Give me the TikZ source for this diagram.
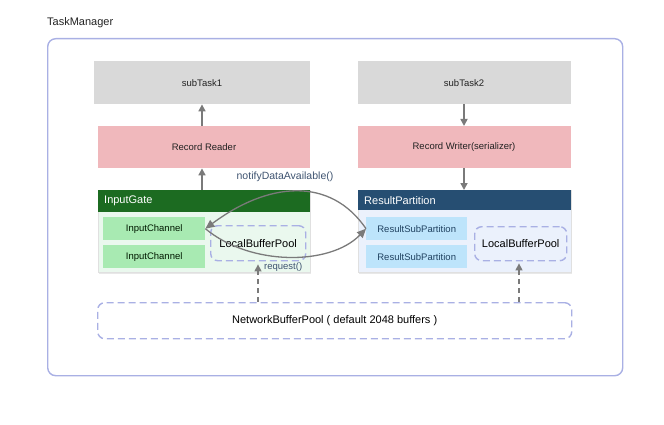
\documentclass[tikz,border=0pt]{standalone}
\usepackage{fontspec}
\setmainfont{Liberation Sans}
\usetikzlibrary{arrows.meta,shadows}
\definecolor{frame}{HTML}{A9B0E4}
\definecolor{grayfill}{HTML}{D9D9D9}
\definecolor{pinkfill}{HTML}{F0B8BC}
\definecolor{dgreen}{HTML}{1C6B21}
\definecolor{lgreen}{HTML}{EAF8EE}
\definecolor{chgreen}{HTML}{A8EAB2}
\definecolor{dblue}{HTML}{264E72}
\definecolor{lblue}{HTML}{EBF1FC}
\definecolor{spblue}{HTML}{BDE4FB}
\definecolor{arrgray}{HTML}{7A7A7A}
\definecolor{txt}{HTML}{222222}
\definecolor{notetxt}{HTML}{3E5370}
\tikzset{
  plainbox/.style={rectangle, draw=none, inner sep=0pt, font=\fontsize{9.5}{11}\selectfont, text=txt},
  gatebody/.style={rectangle, draw=black!12, line width=0.6pt, inner sep=0pt, drop shadow={opacity=0.18, shadow xshift=1pt, shadow yshift=-1.5pt}},
  header/.style={rectangle, draw=none, inner sep=6pt, text=white, font=\fontsize{11}{13}\selectfont, align=left, text width=200pt, minimum height=20pt, anchor=north west},
  poolbox/.style={rectangle, rounded corners=7pt, draw=frame, dash pattern=on 7pt off 4pt, line width=1.4pt, inner sep=0pt, font=\fontsize{11}{13}\selectfont, text=black},
  solidarr/.style={draw=arrgray, line width=1.6pt, -{Triangle[length=7pt,width=7pt]}},
  dasharr/.style={draw=arrgray, line width=1.4pt, dash pattern=on 5pt off 4pt, -{Triangle[length=7pt,width=7pt]}},
  curvearr/.style={draw=arrgray, line width=1.3pt, -{Triangle[length=9pt,width=8pt]}}
}
\begin{document}
\begin{tikzpicture}[x=1pt,y=-1pt]
\useasboundingbox (0,0) rectangle (664,425);
% outer frame
\node[anchor=base west, inner sep=0pt, font=\fontsize{11}{13}\selectfont, text=txt] (tmlabel) at (47,26) {TaskManager};
\node[rectangle, draw=frame, line width=1.4pt, rounded corners=8pt, minimum width=575pt, minimum height=337pt, anchor=north west, inner sep=0pt] (tm) at (47,38) {};

% top boxes
\node[plainbox, fill=grayfill, minimum width=216pt, minimum height=43pt, anchor=north west] (st1) at (94,61) {};
\node[plainbox] (st1t) at (202,83) {subTask1};
\node[plainbox, fill=grayfill, minimum width=213pt, minimum height=43pt, anchor=north west] (st2) at (358,61) {};
\node[plainbox] (st2t) at (464,83) {subTask2};
\node[plainbox, fill=pinkfill, minimum width=212pt, minimum height=42pt, anchor=north west] (rr) at (98,126) {};
\node[plainbox] (rrt) at (204,147) {Record Reader};
\node[plainbox, fill=pinkfill, minimum width=213pt, minimum height=42pt, anchor=north west] (rw) at (358,126) {};
\node[plainbox] (rwt) at (464,147) {Record Writer(serializer)};

% InputGate
\node[gatebody, fill=lgreen, minimum width=212pt, minimum height=82pt, anchor=north west] (ig) at (98,190) {};
\node[header, fill=dgreen] (igh) at (98,190) {InputGate};
\node[plainbox, fill=chgreen, minimum width=102pt, minimum height=23pt, anchor=north west, text=black!75!green!40!black] (ic1) at (103,217) {InputChannel};
\node[plainbox, fill=chgreen, minimum width=102pt, minimum height=23pt, anchor=north west, text=black!75!green!40!black] (ic2) at (103,245) {InputChannel};
\node[poolbox, minimum width=95pt, minimum height=35pt, anchor=north west] (lbp1) at (210,225) {LocalBufferPool};

% ResultPartition
\node[gatebody, fill=lblue, minimum width=213pt, minimum height=82pt, anchor=north west] (rp) at (358,190) {};
\node[header, fill=dblue, text width=201pt] (rph) at (358,190) {ResultPartition};
\node[plainbox, fill=spblue, minimum width=101pt, minimum height=23pt, anchor=north west, text=dblue!85!black] (rs1) at (366,217) {ResultSubPartition};
\node[plainbox, fill=spblue, minimum width=101pt, minimum height=23pt, anchor=north west, text=dblue!85!black] (rs2) at (366,245) {ResultSubPartition};
\node[poolbox, minimum width=92pt, minimum height=34pt, anchor=north west] (lbp2) at (474,226) {LocalBufferPool};

% NetworkBufferPool
\node[poolbox, minimum width=474pt, minimum height=36pt, anchor=north west] (nbp) at (97,302) {NetworkBufferPool ( default 2048 buffers )};

% vertical arrows
\draw[solidarr] (rr.north -| st1t) -- (st1.south -| st1t);
\draw[solidarr] (ig.north -| st1t) -- (rr.south -| st1t);
\draw[solidarr] (st2.south -| st2t) -- (rw.north -| st2t);
\draw[solidarr] (rw.south -| st2t) -- (rp.north -| st2t);

% dashed arrows
\coordinate (lp1) at (258,302);
\coordinate (lp2) at (519,302);
\draw[dasharr, shorten >=3pt] (lp1) -- (lbp1.south -| lp1);
\draw[dasharr, shorten >=2pt] (lp2) -- (lbp2.south -| lp2);
\node[anchor=west, inner sep=0pt, font=\fontsize{9.5}{11}\selectfont, text=notetxt] (req) at (264,267) {request()};

% curved arrows
\draw[curvearr] (rs1.west) .. controls (330,176) and (268,182) .. (ic1.east);
\draw[curvearr] (ic1.east) .. controls (250,266) and (330,266) .. (rs1.west);
\node[inner sep=0pt, font=\fontsize{10.5}{12}\selectfont, text=notetxt] (notify) at (285,177) {notifyDataAvailable()};
\end{tikzpicture}
\end{document}
